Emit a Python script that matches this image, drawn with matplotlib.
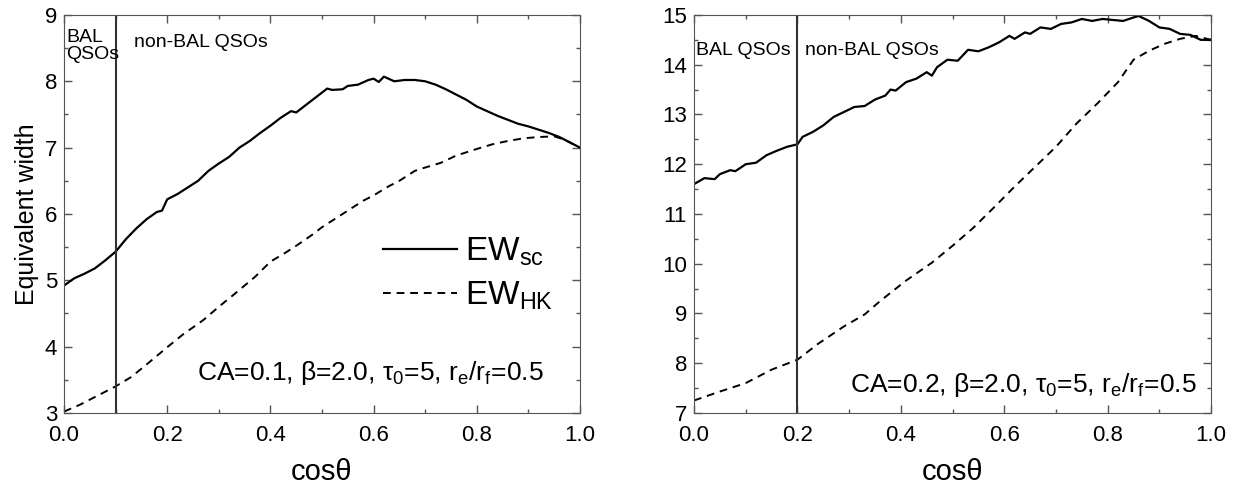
import matplotlib
matplotlib.use("Agg")
import matplotlib.pyplot as plt
from matplotlib.ticker import MultipleLocator

plt.rcParams['font.family'] = ['Liberation Sans', 'DejaVu Sans']
plt.rcParams['mathtext.fontset'] = 'custom'
plt.rcParams['mathtext.rm'] = 'Liberation Sans'
plt.rcParams['mathtext.default'] = 'regular'

# left panel: CA=0.1
x_sc_1 = [0.00, 0.02, 0.04, 0.06, 0.08, 0.10, 0.12, 0.14, 0.16, 0.18, 0.19, 0.20,
          0.22, 0.24, 0.26, 0.28, 0.30, 0.32, 0.34, 0.36, 0.38, 0.40, 0.42, 0.44,
          0.45, 0.47, 0.49, 0.51, 0.52, 0.54, 0.55, 0.57, 0.59, 0.60, 0.61, 0.62,
          0.64, 0.66, 0.68, 0.70, 0.72, 0.74, 0.76, 0.78, 0.80, 0.82, 0.84, 0.86,
          0.88, 0.90, 0.92, 0.94, 0.96, 0.98, 1.00]
ew_sc_1 = [4.92, 5.03, 5.10, 5.18, 5.30, 5.43, 5.62, 5.78, 5.92, 6.03, 6.05, 6.22,
           6.30, 6.40, 6.50, 6.65, 6.76, 6.86, 7.00, 7.10, 7.22, 7.33, 7.45, 7.55,
           7.53, 7.65, 7.77, 7.89, 7.87, 7.88, 7.93, 7.95, 8.02, 8.04, 7.99, 8.07,
           8.00, 8.02, 8.02, 8.00, 7.95, 7.88, 7.80, 7.72, 7.62, 7.55, 7.48, 7.42,
           7.36, 7.32, 7.27, 7.22, 7.16, 7.08, 7.00]
x_hk_1 = [0.00, 0.03, 0.06, 0.10, 0.13, 0.16, 0.20, 0.23, 0.27, 0.30, 0.33, 0.37,
          0.40, 0.43, 0.45, 0.48, 0.50, 0.53, 0.55, 0.58, 0.60, 0.63, 0.65, 0.68,
          0.70, 0.73, 0.76, 0.80, 0.83, 0.86, 0.89, 0.92, 0.95, 0.97, 1.00]
ew_hk_1 = [3.02, 3.12, 3.24, 3.40, 3.54, 3.73, 3.99, 4.18, 4.40, 4.60, 4.79, 5.05,
           5.28, 5.42, 5.52, 5.68, 5.80, 5.95, 6.05, 6.20, 6.28, 6.42, 6.50, 6.65,
           6.70, 6.77, 6.88, 6.98, 7.05, 7.10, 7.14, 7.16, 7.17, 7.12, 7.00]

# right panel: CA=0.2
x_sc_2 = [0.00, 0.02, 0.04, 0.05, 0.07, 0.08, 0.10, 0.12, 0.14, 0.16, 0.18, 0.20,
          0.21, 0.23, 0.25, 0.27, 0.29, 0.31, 0.33, 0.35, 0.37, 0.38, 0.39, 0.41,
          0.43, 0.45, 0.46, 0.47, 0.49, 0.51, 0.53, 0.55, 0.57, 0.59, 0.61, 0.62,
          0.64, 0.65, 0.67, 0.69, 0.71, 0.73, 0.75, 0.77, 0.79, 0.81, 0.83, 0.85,
          0.86, 0.88, 0.90, 0.92, 0.94, 0.96, 0.98, 1.00]
ew_sc_2 = [11.60, 11.72, 11.70, 11.80, 11.88, 11.86, 12.00, 12.03, 12.18, 12.27, 12.35, 12.40,
           12.55, 12.65, 12.78, 12.95, 13.05, 13.15, 13.17, 13.30, 13.38, 13.50, 13.48, 13.65,
           13.72, 13.85, 13.78, 13.95, 14.10, 14.08, 14.30, 14.27, 14.35, 14.45, 14.58, 14.52,
           14.65, 14.62, 14.75, 14.72, 14.82, 14.85, 14.92, 14.88, 14.92, 14.90, 14.88, 14.95,
           14.98, 14.88, 14.75, 14.72, 14.62, 14.60, 14.50, 14.50]
x_hk_2 = [0.00, 0.05, 0.10, 0.15, 0.20, 0.24, 0.29, 0.33, 0.36, 0.41, 0.46, 0.50,
          0.54, 0.58, 0.62, 0.66, 0.70, 0.74, 0.78, 0.82, 0.85, 0.88, 0.91, 0.94,
          0.97, 1.00]
ew_hk_2 = [7.25, 7.43, 7.60, 7.87, 8.07, 8.39, 8.74, 8.98, 9.25, 9.66, 10.02, 10.36,
           10.72, 11.13, 11.55, 11.95, 12.35, 12.82, 13.22, 13.65, 14.10, 14.28, 14.42, 14.52,
           14.58, 14.50]

fig = plt.figure(figsize=(12.42, 4.91), dpi=100)
ax1 = fig.add_axes([0.0515, 0.159, 0.4155, 0.8105])
ax2 = fig.add_axes([0.5588, 0.159, 0.4163, 0.8105])

spine_col = '#555555'

def style(ax, ymin, ymax):
    ax.set_xlim(0, 1)
    ax.set_ylim(ymin, ymax)
    ax.xaxis.set_major_locator(MultipleLocator(0.2))
    ax.xaxis.set_minor_locator(MultipleLocator(0.1))
    ax.yaxis.set_major_locator(MultipleLocator(1))
    ax.yaxis.set_minor_locator(MultipleLocator(0.5))
    ax.xaxis.set_major_formatter(plt.FormatStrFormatter('%.1f'))
    ax.tick_params(which='both', direction='in', top=True, right=True,
                   colors=spine_col, labelcolor='black', labelsize=16, width=1)
    ax.tick_params(which='major', length=6)
    ax.tick_params(which='minor', length=3)
    ax.tick_params(axis='x', pad=9)
    ax.tick_params(axis='y', pad=5)
    for s in ax.spines.values():
        s.set_color(spine_col)
    ax.set_xlabel('cosθ', fontsize=21, labelpad=8)

style(ax1, 3, 9)
style(ax2, 7, 15)

l1, = ax1.plot(x_sc_1, ew_sc_1, color='black', lw=1.6, label='EW$_{sc}$')
l2, = ax1.plot(x_hk_1, ew_hk_1, color='black', lw=1.4, dashes=(4, 3), label='EW$_{HK}$')
ax1.axvline(0.1, color='#333333', lw=1.5)
ax1.set_ylabel('Equivalent width', fontsize=18, labelpad=4)
ax1.text(0.004, 0.965, 'BAL\nQSOs', transform=ax1.transAxes, fontsize=14,
         va='top', ha='left', linespacing=1.0)
ax1.text(0.135, 0.93, 'non-BAL QSOs', transform=ax1.transAxes, fontsize=14,
         va='center', ha='left')
ax1.text(0.93, 0.082, 'CA=0.1, β=2.0, τ$_0$=5, r$_e$/r$_f$=0.5', transform=ax1.transAxes,
         fontsize=19, ha='right', va='baseline')
ax1.legend(handles=[l1, l2], loc='center left', bbox_to_anchor=(0.561, 0.35),
           frameon=False, fontsize=24, handlelength=2.2, handletextpad=0.25,
           labelspacing=0.35)

ax2.plot(x_sc_2, ew_sc_2, color='black', lw=1.6)
ax2.plot(x_hk_2, ew_hk_2, color='black', lw=1.4, dashes=(4, 3))
ax2.axvline(0.2, color='#333333', lw=1.5)
ax2.text(0.004, 0.91, 'BAL QSOs', transform=ax2.transAxes, fontsize=14,
         va='center', ha='left')
ax2.text(0.215, 0.91, 'non-BAL QSOs', transform=ax2.transAxes, fontsize=14,
         va='center', ha='left')
ax2.text(0.973, 0.053, 'CA=0.2, β=2.0, τ$_0$=5, r$_e$/r$_f$=0.5', transform=ax2.transAxes,
         fontsize=19, ha='right', va='baseline')

fig.savefig('out.png', dpi=100)
